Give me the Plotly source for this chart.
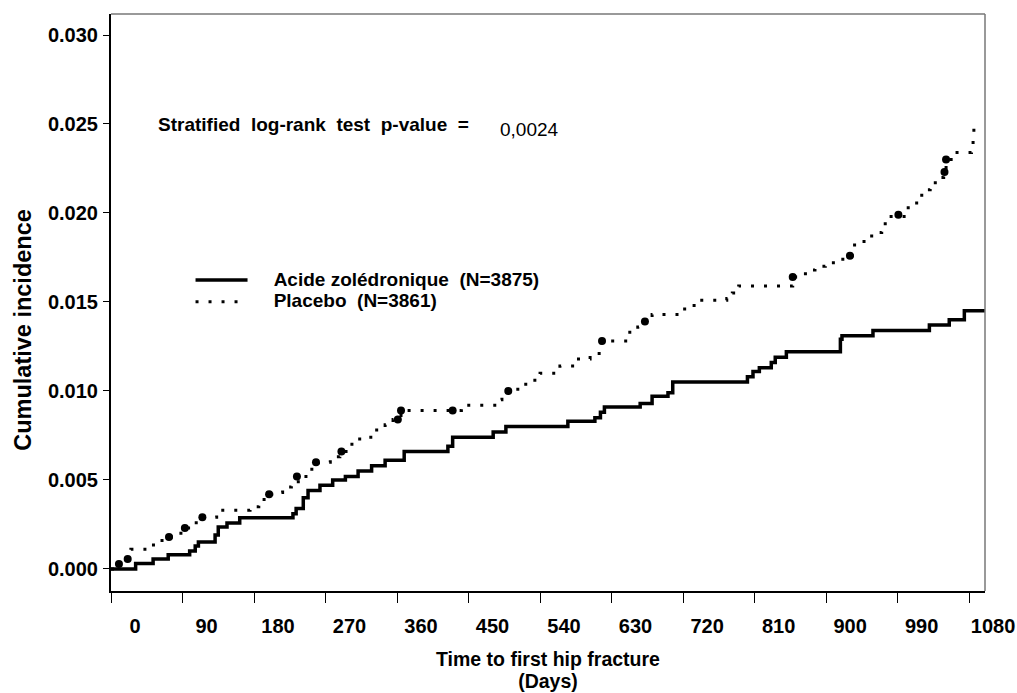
import plotly.graph_objects as go

# ---- data ----
acide_days = [0, 31, 53, 72, 99, 106, 110, 131, 135, 146, 162, 229, 233, 242, 248, 263, 279,
              295, 311, 328, 345, 369, 424, 430, 481, 497, 575, 609, 616, 621, 666, 681, 701,
              707, 801, 808, 816, 831, 836, 850, 918, 920, 959, 1030, 1055, 1074, 1100]
acide_cum = [0.0, 0.0003, 0.00056, 0.0008, 0.00101, 0.00129, 0.00152, 0.0019, 0.00236, 0.00258,
             0.00287, 0.0031, 0.0034, 0.0040, 0.0044, 0.0047, 0.0050, 0.0052, 0.0055, 0.0058,
             0.0061, 0.0066, 0.0069, 0.0074, 0.0077, 0.0080, 0.0083, 0.0085, 0.0088, 0.0091,
             0.0093, 0.0097, 0.0099, 0.0105, 0.0108, 0.0111, 0.0113, 0.0116, 0.0119, 0.0122,
             0.0129, 0.0131, 0.0134, 0.0137, 0.0140, 0.0145, 0.0145]

placebo_days = [0, 8, 18, 25, 49, 62, 72, 82, 92, 102, 112, 133, 175, 186, 196, 206, 216, 227,
                238, 250, 261, 276, 288, 301, 313, 332, 345, 355, 365, 441, 483, 492, 500, 512,
                522, 540, 565, 584, 603, 617, 651, 663, 672, 681, 720, 731, 741, 775, 782, 790,
                858, 874, 886, 899, 918, 929, 933, 945, 955, 964, 970, 977, 1001, 1014, 1023,
                1031, 1041, 1048, 1051, 1060, 1083, 1085, 1086, 1088]
placebo_cum = [0.0, 0.00028, 0.00056, 0.0011, 0.00135, 0.0016, 0.0018, 0.0020, 0.0023, 0.0026,
               0.0029, 0.0033, 0.0035, 0.0039, 0.0042, 0.0043, 0.0046, 0.0049, 0.0052, 0.0056,
               0.0060, 0.0063, 0.0066, 0.0070, 0.0074, 0.0078, 0.0081, 0.0084, 0.0089, 0.0092,
               0.0095, 0.0098, 0.0100, 0.0102, 0.0106, 0.0110, 0.0114, 0.0118, 0.0121, 0.0128,
               0.0133, 0.0136, 0.0139, 0.0143, 0.0146, 0.0148, 0.0151, 0.0152, 0.0155, 0.0159,
               0.0164, 0.0168, 0.0170, 0.0172, 0.0174, 0.0176, 0.0182, 0.0184, 0.0187, 0.0189,
               0.0194, 0.0198, 0.0203, 0.0210, 0.0213, 0.0217, 0.0220, 0.0223, 0.0230, 0.0234,
               0.0238, 0.0244, 0.0251, 0.0251]

placebo_dot_days = [10, 21, 73, 93, 115, 199, 234, 258, 290, 361, 365, 430, 500, 618, 672,
                    858, 930, 991, 1049, 1051]
placebo_dot_cum = [0.00028, 0.00056, 0.0018, 0.0023, 0.0029, 0.0042, 0.0052, 0.0060, 0.0066,
                   0.0084, 0.0089, 0.0089, 0.0100, 0.0128, 0.0139, 0.0164, 0.0176, 0.0199,
                   0.0223, 0.0230]

x_ticks = [0, 90, 180, 270, 360, 450, 540, 630, 720, 810, 900, 990, 1080]
y_ticks = [0.0, 0.005, 0.010, 0.015, 0.020, 0.025, 0.030]

name_acide = "Acide zolédronique  (N=3875)"
name_placebo = "Placebo  (N=3861)"
x_title = ["Time to first hip fracture", "(Days)"]
y_title = "Cumulative incidence"
pvalue_label = "Stratified  log-rank  test  p-value  ="
pvalue_text = "0,0024"

FONT = "Liberation Sans, Arial, sans-serif"
NBSP = "\u00a0"


def big(txt, size, bold=True):
    s = f'<span style="font-size:{size}px">{txt}</span>'
    return f"<b>{s}</b>" if bold else s


fig = go.Figure()
fig.add_trace(go.Scatter(
    x=acide_days, y=acide_cum, mode="lines", line_shape="hv",
    name=big(NBSP * 4 + name_acide, 19),
    line=dict(color="black", width=3.5)))
fig.add_trace(go.Scatter(
    x=placebo_days, y=placebo_cum, mode="lines", line_shape="hv",
    name=big(NBSP * 4 + name_placebo, 19),
    line=dict(color="black", width=3, dash="3px,10px")))
fig.add_trace(go.Scatter(
    x=placebo_dot_days, y=placebo_dot_cum, mode="markers", showlegend=False,
    marker=dict(color="black", size=8), hoverinfo="skip"))

fig.update_layout(
    template="none",
    width=1017, height=693,
    margin=dict(l=111, r=32, t=14, b=102, pad=0),
    paper_bgcolor="white", plot_bgcolor="white",
    font=dict(family=FONT, color="black"),
    showlegend=True,
    legend=dict(x=0.091, y=0.52, xanchor="left", yanchor="middle",
                bgcolor="rgba(0,0,0,0)", font=dict(family=FONT, size=14.5, color="black"),
                itemwidth=52, tracegroupgap=0, borderwidth=0),
    xaxis=dict(range=[0, 1100], tickvals=x_ticks, ticktext=[str(v) for v in x_ticks],
               ticks="outside", ticklen=10, tickwidth=1, tickcolor="black",
               showline=True, linecolor="black", linewidth=1.5, automargin=False,
               showgrid=False, zeroline=False, ticklabelshift=24, ticklabelstandoff=6,
               tickfont=dict(family=FONT, size=20, color="black", weight="bold"),
               title=dict(text=big(x_title[0], 19.5) + "<br>" + big(x_title[1], 19.5),
                          standoff=18, font=dict(family=FONT, size=17, color="black"))),
    yaxis=dict(range=[-0.00124, 0.03118], tickvals=y_ticks, tickformat=".3f",
               ticks="outside", ticklen=6, tickwidth=1, tickcolor="black",
               showline=True, linecolor="black", linewidth=2, automargin=False,
               showgrid=False, zeroline=False, ticklabelstandoff=1,
               tickfont=dict(family=FONT, size=20, color="black", weight="bold")),
)

# frame (top/right edges)
fig.add_shape(type="line", xref="paper", yref="paper", x0=0, x1=1, y0=1, y1=1,
              line=dict(color="#777777", width=1.5))
fig.add_shape(type="line", xref="paper", yref="paper", x0=1, x1=1, y0=0, y1=1,
              line=dict(color="#777777", width=1.5))

# y-axis title (placed as rotated text)
fig.add_annotation(xref="paper", yref="paper", x=-0.10, y=0.452, xanchor="center", yanchor="middle",
                   text=y_title, textangle=-90, showarrow=False,
                   font=dict(family=FONT, size=23.5, color="black", weight="bold"))

fig.add_annotation(xref="paper", yref="paper", x=0.0515, y=0.809, xanchor="left", yanchor="middle",
                   text=pvalue_label, showarrow=False,
                   font=dict(family=FONT, size=19, color="black", weight="bold"))
fig.add_annotation(xref="paper", yref="paper", x=0.4428, y=0.799, xanchor="left", yanchor="middle",
                   text=pvalue_text, showarrow=False,
                   font=dict(family=FONT, size=19, color="black"))

fig.write_html("out.html", config={"displayModeBar": False},
               post_script="document.body.style.margin='0px';")
